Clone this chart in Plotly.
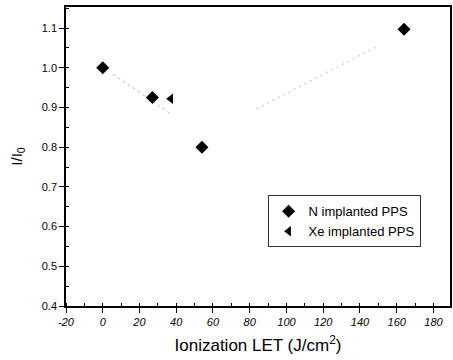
import plotly.graph_objects as go

n_x = [0, 27, 54, 164]
n_y = [1.0, 0.925, 0.80, 1.097]
xe_x = [37]
xe_y = [0.922]
trend1_x = [5.5, 37]
trend1_y = [0.984, 0.884]
trend2_x = [83.5, 148.6]
trend2_y = [0.896, 1.052]
x_ticks = [-20, 0, 20, 40, 60, 80, 100, 120, 140, 160, 180]
x_ticktext = ["-20", "0", "20", "40", "60", "80", "100", "120", "140", "160", "180"]
y_ticks = [0.4, 0.5, 0.6, 0.7, 0.8, 0.9, 1.0, 1.1]
y_ticktext = ["0.4", "0.5", "0.6", "0.7", "0.8", "0.9", "1.0", "1.1"]

fig = go.Figure()
fig.add_trace(go.Scatter(x=trend1_x, y=trend1_y, mode="lines", showlegend=False,
                         line=dict(color="#bbb", width=1, dash="dot"), hoverinfo="skip"))
fig.add_trace(go.Scatter(x=trend2_x, y=trend2_y, mode="lines", showlegend=False,
                         line=dict(color="#ccc", width=1, dash="dot"), hoverinfo="skip"))
fig.add_trace(go.Scatter(x=n_x, y=n_y, mode="markers", name="N implanted PPS",
                         marker=dict(symbol="diamond", size=10, color="black")))
fig.add_trace(go.Scatter(x=xe_x, y=xe_y, mode="markers", name="Xe implanted PPS",
                         marker=dict(symbol="triangle-left", size=9, color="black")))

font = "Liberation Sans, Arial, sans-serif"
fig.update_layout(
    width=453, height=360,
    margin=dict(l=66, r=1, t=7, b=54),
    paper_bgcolor="white", plot_bgcolor="white",
    font=dict(family=font, color="black", size=11),
    legend=dict(x=0.525, y=0.37, xanchor="left", yanchor="top",
                bordercolor="#333", borderwidth=1, bgcolor="white",
                font=dict(size=13, family=font), itemwidth=30,
                tracegroupgap=0),
    xaxis=dict(range=[-20, 189], tickvals=x_ticks, ticktext=x_ticktext,
               ticks="outside", ticklen=5, tickwidth=1, tickcolor="black",
               minor=dict(dtick=10, ticks="inside", ticklen=3, tickcolor="black"),
               showline=True, linecolor="black", linewidth=1.5, mirror=True,
               showgrid=False, zeroline=False,
               tickfont=dict(size=11, family=font, style="italic"),
               title=dict(text="Ionization LET (J/cm<sup>2</sup>)", font=dict(size=17), standoff=12)),
    yaxis=dict(range=[0.4, 1.153], tickvals=y_ticks, ticktext=y_ticktext,
               ticks="outside", ticklen=5, tickwidth=1, tickcolor="black",
               minor=dict(dtick=0.05, ticks="inside", ticklen=3, tickcolor="black"),
               showline=True, linecolor="black", linewidth=1.5, mirror=True,
               showgrid=False, zeroline=False,
               title=dict(text="I/I<sub>0</sub>", font=dict(size=15), standoff=16)),
)
fig.write_html("out.html")
